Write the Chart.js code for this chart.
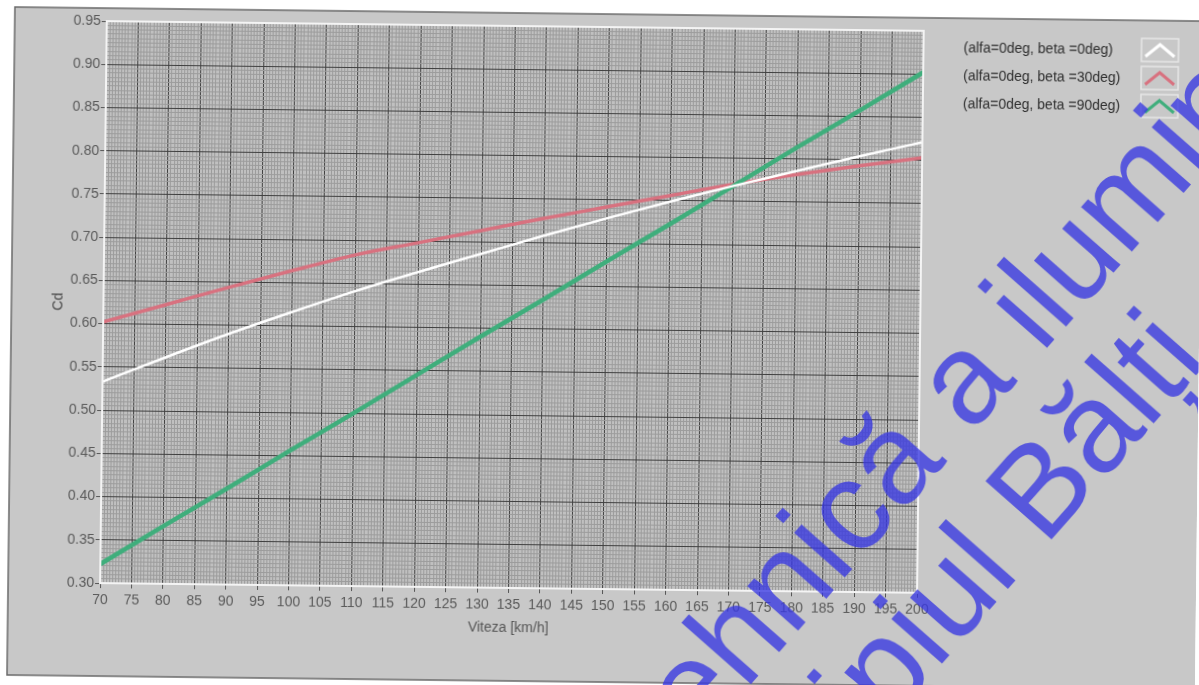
<!DOCTYPE html>
<html><head><meta charset="utf-8">
<script src="https://cdn.jsdelivr.net/npm/chart.js@4.4.1/dist/chart.umd.min.js"></script>
<style>
html,body{margin:0;padding:0;background:#fff;overflow:hidden;}
#wrap{width:1199px;height:685px;position:relative;}
canvas{display:block;transform:rotate(0.68deg);transform-origin:600px 342px;}
</style>
</head><body><div id="wrap"><canvas id="c" width="1199" height="685"></canvas></div>
<script>
// ---- data ----
const speeds   = [70, 80, 90, 100, 110, 120, 130, 140, 150, 160, 170, 180, 190, 200];
const cdBeta0  = [0.533, 0.562, 0.590, 0.616, 0.641, 0.664, 0.686, 0.708, 0.729, 0.749, 0.768, 0.786, 0.804, 0.821];
const cdBeta30 = [0.602, 0.623, 0.644, 0.664, 0.683, 0.698, 0.713, 0.728, 0.742, 0.756, 0.770, 0.782, 0.793, 0.803];
const cdBeta90 = [0.322, 0.367, 0.411, 0.456, 0.500, 0.545, 0.590, 0.634, 0.679, 0.723, 0.768, 0.813, 0.857, 0.902];
const seriesLabels = ['(alfa=0deg, beta =0deg)', '(alfa=0deg, beta =30deg)', '(alfa=0deg, beta =90deg)'];
const xTickLabels = ['70','75','80','85','90','95','100','105','110','115','120','125','130','135','140','145','150','155','160','165','170','175','180','185','190','195','200'];
const yTickLabels = ['0.30','0.35','0.40','0.45','0.50','0.55','0.60','0.65','0.70','0.75','0.80','0.85','0.90','0.95'];
const xTitle = 'Viteza [km/h]';
const yTitle = 'Cd';
const watermark1 = ['tehnică ', 'a ilumin'];
const watermark2 = ['ipiul ', 'Bălți'];

const FONT = "'Liberation Sans', Arial, sans-serif";
const seriesColors = ['#ffffff', '#d8717f', '#3fae7c'];
const seriesWidths = [2.5, 3.5, 4.5];

function isMajorX(v){ return xTickLabels.indexOf(String(Math.round(v*1000)/1000)) >= 0 && Math.abs(v - Math.round(v)) < 1e-6; }
function yLabelOf(v){ const s = (Math.round(v*1000)/1000).toFixed(2); return (Math.abs(v*20 - Math.round(v*20)) < 1e-6 && yTickLabels.indexOf(s) >= 0) ? s : ''; }
function isMajorY(v){ return yLabelOf(v) !== ''; }

const MAJOR = '#404040', MINOR = '#9c9c9c', TICKC = '#555555';

const bgPlugin = {
  id: 'bg',
  beforeDraw(chart){
    const {ctx, chartArea: a, width, height} = chart;
    ctx.save();
    ctx.fillStyle = '#ffffff';
    ctx.fillRect(0, 0, width, height);
    ctx.fillStyle = '#c8c8c8';
    ctx.fillRect(11, 14, width + 20, 668);
    ctx.strokeStyle = '#6a6a6a';
    ctx.lineWidth = 1.5;
    ctx.beginPath();
    ctx.moveTo(width + 20, 14); ctx.lineTo(11, 14); ctx.lineTo(11, 682); ctx.lineTo(width + 20, 682);
    ctx.stroke();
    ctx.fillStyle = '#c0c0c0';
    ctx.fillRect(a.left, a.top, a.right - a.left, a.bottom - a.top);
    ctx.restore();
  },
  afterDraw(chart){
    const {ctx, chartArea: a} = chart;
    ctx.save();
    ctx.strokeStyle = '#f4f4f4';
    ctx.lineWidth = 2;
    ctx.strokeRect(a.left, a.top, a.right - a.left, a.bottom - a.top);
    chart.data.datasets.forEach((ds, i) => {
      const y = 44 + 28 * i;
      ctx.fillStyle = '#2e2e2e';
      ctx.font = '14px ' + FONT;
      ctx.textAlign = 'left';
      ctx.textBaseline = 'middle';
      ctx.fillText(ds.label, 960, y);
      const bx = 1138, by = y - 12, bw = 37, bh = 23;
      ctx.strokeStyle = '#e6e6e6';
      ctx.lineWidth = 1.5;
      ctx.strokeRect(bx, by, bw, bh);
      ctx.strokeStyle = ds.borderColor;
      ctx.lineWidth = 3;
      ctx.beginPath();
      ctx.moveTo(bx + 4, by + bh - 5);
      ctx.lineTo(bx + bw / 2, by + 6);
      ctx.lineTo(bx + bw - 4, by + bh - 5);
      ctx.stroke();
    });
    const ang = -49.3 * Math.PI / 180;
    ctx.font = '128px ' + FONT;
    ctx.fillStyle = 'rgba(55,55,225,0.78)';
    ctx.textBaseline = 'alphabetic';
    [[watermark1, 972, 430], [watermark2, 1047, 542]].forEach(([parts, x, y]) => {
      ctx.save();
      ctx.translate(x, y);
      ctx.rotate(ang);
      ctx.textAlign = 'right';
      ctx.fillText(parts[0], 0, 0);
      ctx.textAlign = 'left';
      ctx.fillText(parts[1], 0, 0);
      ctx.restore();
    });
    ctx.restore();
  }
};

const mk = (ys) => speeds.map((s, i) => ({x: s, y: ys[i]}));

new Chart(document.getElementById('c'), {
  type: 'line',
  data: {
    datasets: [
      {label: seriesLabels[0], data: mk(cdBeta0), borderColor: seriesColors[0], borderWidth: seriesWidths[0], order: 0},
      {label: seriesLabels[1], data: mk(cdBeta30), borderColor: seriesColors[1], borderWidth: seriesWidths[1], order: 2},
      {label: seriesLabels[2], data: mk(cdBeta90), borderColor: seriesColors[2], borderWidth: seriesWidths[2], order: 1}
    ]
  },
  options: {
    responsive: false,
    devicePixelRatio: 1,
    animation: false,
    events: [],
    elements: {point: {radius: 0}, line: {cubicInterpolationMode: 'monotone', fill: false}},
    layout: {padding: {left: 46, right: 279, top: 27, bottom: 45}},
    plugins: {legend: {display: false}, tooltip: {enabled: false}},
    scales: {
      x: {
        type: 'linear', min: 70, max: 200,
        ticks: {
          stepSize: 0.5, autoSkip: false, maxRotation: 0, minRotation: 0, padding: 4,
          color: '#5a5a5a', font: {family: FONT, size: 14},
          callback: (v) => isMajorX(v) ? String(Math.round(v)) : ''
        },
        grid: {
          color: (c) => (c.tick && isMajorX(c.tick.value)) ? MAJOR : MINOR,
          lineWidth: 1, tickLength: 5,
          tickColor: (c) => (c.tick && isMajorX(c.tick.value)) ? TICKC : 'rgba(0,0,0,0)'
        },
        border: {display: false},
        title: {display: true, text: xTitle, color: '#555555', font: {family: FONT, size: 14}, padding: {top: 4, bottom: 2}},
        afterFit: (s) => { s.height = 51; }
      },
      y: {
        type: 'linear', min: 0.30, max: 0.95,
        ticks: {
          stepSize: 0.005, autoSkip: false, padding: 1,
          color: '#5a5a5a', font: {family: FONT, size: 14},
          callback: (v) => yLabelOf(v)
        },
        grid: {
          color: (c) => (c.tick && isMajorY(c.tick.value)) ? MAJOR : MINOR,
          lineWidth: 1, tickLength: 5,
          tickColor: (c) => (c.tick && isMajorY(c.tick.value)) ? TICKC : 'rgba(0,0,0,0)'
        },
        border: {display: false},
        title: {display: true, text: yTitle, color: '#444444', font: {family: FONT, size: 14}, padding: {top: 4, bottom: 4}},
        afterFit: (s) => { s.width = 57; }
      }
    }
  },
  plugins: [bgPlugin]
});
</script></body></html>
